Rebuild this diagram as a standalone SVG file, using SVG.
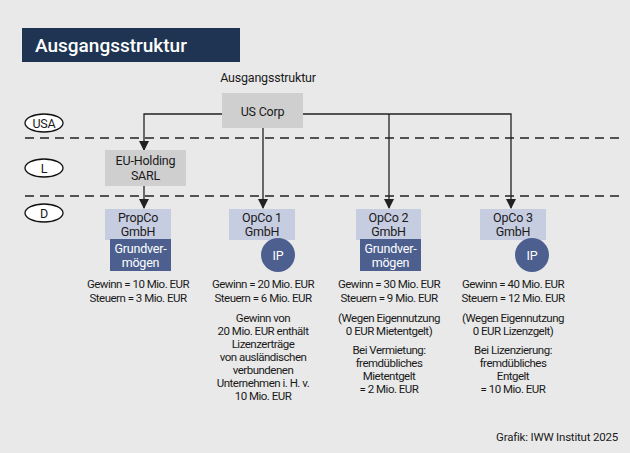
<svg xmlns="http://www.w3.org/2000/svg" width="630" height="453" viewBox="0 0 630 453">
<defs>
<style>
text{font-family:Roboto,"Liberation Sans",sans-serif;font-size:11.5px;fill:#1a1a1a;text-anchor:middle;letter-spacing:-0.5px}
.g{fill:#cfcfcf}.lb{fill:#c7cde0}.db{fill:#4c5f8f}
.w{fill:#fff}
.big{font-size:12.5px;letter-spacing:-0.2px}
.c{fill:none;stroke:#222;stroke-width:1.3}
.d{stroke:#222;stroke-width:1.3;stroke-dasharray:9,6}
.ov{fill:#fff;stroke:#111;stroke-width:1.3}
</style>
<marker id="a" viewBox="0 0 10 10" refX="9" refY="5" markerWidth="10" markerHeight="10" markerUnits="userSpaceOnUse" orient="auto"><path d="M0,0L10,5L0,10z" fill="#222"/></marker>
</defs>
<rect width="630" height="453" fill="#e9e9e9"/>
<rect x="22" y="28" width="218" height="34" fill="#1e3452"/>
<text x="35" y="52" class="w" style="font-size:19px;text-anchor:start;letter-spacing:0;font-weight:500">Ausgangsstruktur</text>
<text x="268" y="82" class="big">Ausgangsstruktur</text>
<g id="lanes">
<line x1="25" y1="138" x2="620" y2="138" class="d"/>
<line x1="25" y1="196" x2="620" y2="196" class="d"/>
<ellipse cx="44" cy="123" rx="19" ry="9" class="ov"/><text x="44" y="127.5" class="big">USA</text>
<ellipse cx="44" cy="168" rx="19" ry="9" class="ov"/><text x="44" y="172.5" class="big">L</text>
<ellipse cx="44" cy="213" rx="19" ry="9" class="ov"/><text x="44" y="217.5" class="big">D</text>
</g>
<g id="connectors">
<path d="M222,114H144V150" class="c" marker-end="url(#a)"/>
<path d="M144,186V208" class="c" marker-end="url(#a)"/>
<path d="M263,128V208" class="c" marker-end="url(#a)"/>
<path d="M303,114H511V208" class="c" marker-end="url(#a)"/>
<path d="M389,114V208" class="c" marker-end="url(#a)"/>
</g>
<g id="uscorp"><rect x="222" y="93" width="81" height="35" class="g"/><text x="262.5" y="116" class="big">US Corp</text></g>
<g id="euholding"><rect x="105" y="150" width="81" height="36" class="g"/><text x="145.5" y="165" class="big">EU-Holding</text><text x="145.5" y="180" class="big">SARL</text></g>
<g id="propco"><rect x="105" y="209" width="66" height="31" class="lb"/><text x="138" y="222" class="big">PropCo</text><text x="138" y="236" class="big">GmbH</text>
<rect x="110" y="239" width="61" height="32" class="db"/><text x="140.5" y="253" class="w big">Grundver-</text><text x="140.5" y="267" class="w big">mögen</text>
<text x="138" y="288">Gewinn = 10 Mio. EUR</text><text x="138" y="302">Steuern = 3 Mio. EUR</text></g>
<g id="opco1"><rect x="229" y="209" width="66" height="31" class="lb"/><text x="262" y="222" class="big">OpCo 1</text><text x="262" y="236" class="big">GmbH</text>
<circle cx="278" cy="255" r="17" class="db"/><text x="278" y="260" class="w big">IP</text>
<text x="263" y="288">Gewinn = 20 Mio. EUR</text><text x="263" y="302">Steuern = 6 Mio. EUR</text>
<text x="263" y="322">Gewinn von</text><text x="263" y="335">20 Mio. EUR enthält</text><text x="263" y="348">Lizenzerträge</text><text x="263" y="361">von ausländischen</text><text x="263" y="374">verbundenen</text><text x="263" y="387">Unternehmen i. H. v.</text><text x="263" y="400">10 Mio. EUR</text></g>
<g id="opco2"><rect x="356" y="209" width="65" height="31" class="lb"/><text x="388.5" y="222" class="big">OpCo 2</text><text x="388.5" y="236" class="big">GmbH</text>
<rect x="360" y="239" width="61" height="32" class="db"/><text x="390.5" y="253" class="w big">Grundver-</text><text x="390.5" y="267" class="w big">mögen</text>
<text x="389" y="288">Gewinn = 30 Mio. EUR</text><text x="389" y="302">Steuern = 9 Mio. EUR</text>
<text x="389" y="322">(Wegen Eigennutzung</text><text x="389" y="335">0 EUR Mietentgelt)</text>
<text x="389" y="354">Bei Vermietung:</text><text x="389" y="367">fremdübliches</text><text x="389" y="380">Mietentgelt</text><text x="389" y="393">= 2 Mio. EUR</text></g>
<g id="opco3"><rect x="480" y="209" width="66" height="31" class="lb"/><text x="513" y="222" class="big">OpCo 3</text><text x="513" y="236" class="big">GmbH</text>
<circle cx="532" cy="255" r="17" class="db"/><text x="532" y="260" class="w big">IP</text>
<text x="513" y="288">Gewinn = 40 Mio. EUR</text><text x="513" y="302">Steuern = 12 Mio. EUR</text>
<text x="513" y="322">(Wegen Eigennutzung</text><text x="513" y="335">0 EUR Lizenzgelt)</text>
<text x="513" y="354">Bei Lizenzierung:</text><text x="513" y="367">fremdübliches</text><text x="513" y="380">Entgelt</text><text x="513" y="393">= 10 Mio. EUR</text></g>
<text x="618" y="441" style="text-anchor:end;letter-spacing:-0.2px">Grafik: IWW Institut 2025</text>
</svg>
